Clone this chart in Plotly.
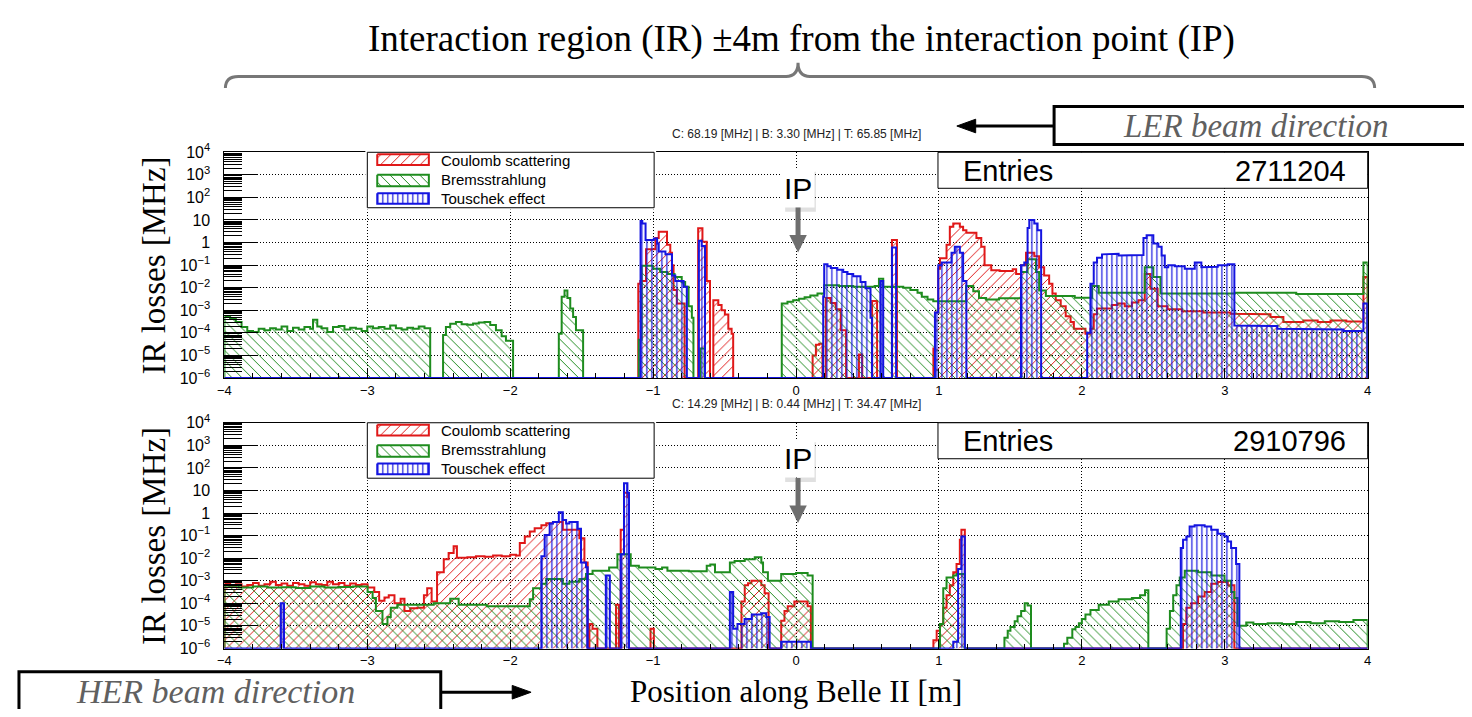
import plotly.graph_objects as go

# ---------------- data (bin edges / bin contents, MHz) ----------------
# Upper panel: LER
LER_COULOMB_X = [-4.00, -1.104, -1.09, -1.05, -0.984, -0.961, -0.903, -0.880, -0.868, -0.857, -0.834, -0.780,
                 -0.685, -0.655, -0.625, -0.602, -0.579, -0.544, -0.521, -0.498, -0.474, -0.451, -0.440,
                 0.116, 0.139, 0.162, 0.185, 0.208, 0.243, 0.278, 0.313, 0.35, 0.44, 0.463, 0.532, 0.567,
                 0.671, 0.706, 0.961, 0.972, 0.995, 1.007, 1.053, 1.076, 1.100, 1.146, 1.169, 1.192, 1.262,
                 1.296, 1.319, 1.366, 1.424, 1.516, 1.540, 1.574, 1.609, 1.667, 1.701, 1.736, 1.771, 1.794,
                 1.817, 1.852, 1.887, 1.921, 1.944, 2.025, 2.060, 2.083, 2.106, 2.21, 2.25, 2.30, 2.35,
                 2.396, 2.44, 2.48, 2.53, 2.60, 2.70, 2.85, 3.04, 3.20, 3.32, 3.41, 3.55, 3.65, 3.74, 3.85,
                 3.97, 4.00]
LER_COULOMB_Y = [0, 0.015, 0.02, 0.5, 1.6, 3.0, 0.8, 0.35, 0.1, 8e-3, 2e-3, 0,
                 4.3, 1.1, 0.02, 0, 2.8e-3, 1.7e-3, 1e-3, 6.5e-4, 1.5e-4, 9e-5, 0,
                 1e-5, 3e-5, 3.3e-5, 0, 3.5e-3, 2.1e-3, 1.1e-3, 1.3e-4, 0, 1.1e-5, 0, 2.6e-3, 0,
                 1.3, 0, 2e-5, 8e-4, 0.07, 0.2, 0.8, 5, 7, 5, 3.5, 2.7, 1.6,
                 0.65, 0.1, 0.06, 0.055, 0.065, 0.04, 0.1, 0.35, 0.25, 0.08, 0.035, 0.015, 5.6e-3,
                 2.8e-3, 1.5e-3, 5.5e-4, 3e-4, 1.5e-4, 9e-5, 1.5e-4, 6.6e-4, 1.2e-3, 1.7e-3, 2e-3, 1.5e-3, 2.2e-3,
                 2.8e-3, 0.04, 9e-3, 1.5e-3, 1.1e-3, 9e-4, 8e-4, 7e-4, 6.6e-4, 5e-4, 3e-4, 3.5e-4, 3e-4, 3.5e-4, 3.2e-4,
                 0.03]

LER_BREMS_X = [-4.00, -3.96, -3.92, -3.88, -3.84, -3.80, -3.76, -3.72, -3.68, -3.64, -3.60, -3.56, -3.52,
               -3.48, -3.44, -3.40, -3.38, -3.35, -3.32, -3.28, -3.24, -3.20, -3.16, -3.12, -3.08, -3.04,
               -3.00, -2.96, -2.92, -2.88, -2.84, -2.80, -2.76, -2.72, -2.68, -2.64, -2.60, -2.56, -2.47,
               -2.45, -2.42, -2.38, -2.34, -2.30, -2.26, -2.22, -2.18, -2.14, -2.10, -2.06, -2.03, -1.98,
               -1.66, -1.64, -1.62, -1.60, -1.58, -1.56, -1.54, -1.49, -1.10, -1.08, -1.00, -0.95, -0.90,
               -0.85, -0.80, -0.776, -0.752, -0.729, -0.718, -0.67, -0.64, -0.10, -0.06, -0.02, 0.02, 0.06,
               0.10, 0.15, 0.197, 0.30, 0.40, 0.55, 0.58, 0.61, 0.70, 0.75, 0.80, 0.85, 0.88, 0.92, 0.96,
               1.19, 1.24, 1.28, 1.33, 1.42, 1.574, 1.62, 1.679, 1.701, 1.748, 1.95, 2.072, 2.118, 2.44,
               2.50, 2.55, 3.07, 3.50, 3.97, 4.00]
LER_BREMS_Y = [5.6e-4, 4.5e-4, 3.0e-4, 1.8e-4, 1.2e-4, 1.1e-4, 1.5e-4, 1.3e-4, 1.6e-4, 1.4e-4, 1.9e-4, 1.2e-4, 1.7e-4,
               1.4e-4, 1.8e-4, 1.5e-4, 3.8e-4, 1.9e-4, 1.6e-4, 1.1e-4, 1.8e-4, 2.0e-4, 1.4e-4, 1.7e-4, 1.5e-4, 1.2e-4,
               1.9e-4, 1.6e-4, 1.8e-4, 1.5e-4, 2.1e-4, 1.6e-4, 1.4e-4, 1.7e-4, 1.5e-4, 1.9e-4, 1.6e-4, 0, 8e-5,
               1.8e-4, 2.5e-4, 3.0e-4, 2.4e-4, 2.3e-4, 2.6e-4, 2.9e-4, 3.0e-4, 2.2e-4, 1.3e-4, 7e-5, 4.5e-5, 0,
               9e-5, 4e-3, 7.5e-3, 3.5e-3, 1.2e-3, 5e-4, 1.3e-4, 0, 5e-5, 0.095, 0.07, 0.05, 0.04,
               0.03, 0.018, 0.011, 1.5e-3, 4.7e-4, 0, 2e-5, 0, 2e-3, 2.4e-3, 2.8e-3, 3.2e-3, 3.8e-3,
               4.5e-3, 5.5e-3, 0.013, 0.012, 0.011, 0.012, 0.025, 0.011, 0.011, 0.010, 0.008, 0.006, 0.004, 0.003,
               0.0025,
               0.012, 0.007, 0.0035, 0.003, 0.0034, 0.05, 0.18, 0.05, 0.0076, 0.0043, 0.0036, 0.012, 0.006,
               0.08, 0.03, 0.0055, 0.006, 0.0053, 0.13]

LER_TOUSCHEK_X = [-4.00, -1.088, -1.076, -1.053, -0.995, -0.972, -0.961, -0.914, -0.868, -0.845, -0.787, -0.764,
                  -0.680, -0.660, -0.637, 0.190, 0.197, 0.220, 0.243, 0.289, 0.330, 0.360, 0.400, 0.451, 0.486,
                  0.521, 0.532, 0.590, 0.610, 0.671, 0.700, 0.972, 0.995, 1.019, 1.088, 1.111, 1.146, 1.169,
                  1.192, 1.574, 1.597, 1.620, 1.632, 1.667, 1.690, 1.715, 2.037, 2.060, 2.083, 2.106, 2.141,
                  2.21, 2.257, 2.33, 2.431, 2.453, 2.50, 2.535, 2.558, 2.58, 2.604, 2.65, 2.72, 2.79, 2.836,
                  2.90, 2.951, 3.02, 3.067, 3.20, 3.368, 3.60, 3.831, 3.97, 4.00]
LER_TOUSCHEK_Y = [0, 9, 7, 1.3, 1.5, 0.9, 0.4, 0.3, 0.035, 0.02, 0.011, 0,
                  1.2, 0.7, 0, 4e-3, 0.11, 0.09, 0.075, 0.062, 0.05, 0.04, 0.032, 0.018, 0.0095,
                  4.7e-4, 0, 0.02, 0, 0.6, 0, 8e-4, 0.1, 0.13, 0.35, 0.65, 0.35, 0.02,
                  0, 0.1, 0.13, 4.4, 10, 7, 3.5, 0, 1e-4, 0.015, 0.13, 0.21, 0.3,
                  0.32, 0.27, 0.28, 1.6, 2.1, 0.9, 0.65, 0.27, 0.08, 0.1, 0.09, 0.07, 0.13, 0.08,
                  0.085, 0.1, 0.11, 2.1e-4, 2e-4, 1.5e-4, 1.4e-4, 1.2e-4, 2e-3]

# Lower panel: HER
HER_COULOMB_X = [-4.00, -3.96, -3.92, -3.88, -3.84, -3.80, -3.76, -3.72, -3.68, -3.64, -3.60, -3.56, -3.52,
                 -3.48, -3.44, -3.40, -3.36, -3.32, -3.28, -3.24, -3.20, -3.16, -3.12, -3.08, -3.04, -2.998,
                 -2.951, -2.917, -2.88, -2.85, -2.81, -2.767, -2.74, -2.70, -2.65, -2.604, -2.581, -2.55,
                 -2.512, -2.465, -2.431, -2.396, -2.373, -2.30, -2.24, -2.18, -2.12, -2.06, -2.00, -1.96,
                 -1.933, -1.898, -1.863, -1.829, -1.782, -1.748, -1.70, -1.632, -1.55, -1.516, -1.481,
                 -1.458, -1.446, -1.424, -1.39, -1.26, -1.24, -1.227, -1.204, -1.18, -1.169, -1.018, -0.995,
                 -0.382, -0.359, -0.336, -0.3125, -0.243, -0.22, -0.192, -0.104, -0.081, -0.058, -0.012,
                 0.081, 0.104, 0.961, 0.984, 1.007, 1.030, 1.053, 1.076, 1.100, 1.123, 1.146, 1.157, 1.181,
                 2.708, 2.731, 2.766, 2.813, 2.859, 2.905, 2.951, 3.021, 3.067, 4.00]
HER_COULOMB_Y = [8e-4, 6e-4, 7e-4, 5.5e-4, 6.5e-4, 8e-4, 6e-4, 7e-4, 9e-4, 6.5e-4, 7.5e-4, 6e-4, 8e-4,
                 7e-4, 6e-4, 8.5e-4, 7e-4, 6.5e-4, 9e-4, 7e-4, 8e-4, 6e-4, 7.5e-4, 6.5e-4, 7e-4, 5e-4,
                 3.2e-4, 1.3e-4, 1.8e-4, 2.3e-4, 1e-4, 1.6e-4, 4.5e-5, 6e-5, 6.3e-5, 2.3e-4, 4.6e-4, 1.2e-4,
                 2.4e-3, 9e-3, 0.017, 0.034, 0.0105, 0.011, 0.012, 0.0115, 0.013, 0.012, 0.014, 0.013,
                 0.047, 0.09, 0.15, 0.21, 0.29, 0.35, 0.4, 0.18, 0.18, 0.077, 6.5e-3,
                 0, 1.2e-5, 7.5e-6, 0, 8.7e-5, 0, 0.18, 8, 5, 0, 7.5e-6, 0,
                 1.2e-4, 6.3e-4, 7.7e-4, 1e-3, 6.3e-4, 2.8e-4, 0, 1.7e-5, 4.5e-5, 7.4e-5, 1.2e-4,
                 7.4e-5, 0, 2.3e-6, 6e-6, 1.2e-5, 6.3e-5, 2.3e-4, 6.3e-4, 2.4e-3, 5.5e-3, 0.065, 0.18, 0,
                 1.2e-5, 6.3e-5, 1e-4, 2e-4, 3.2e-4, 7.4e-4, 8.7e-4, 6.3e-4, 0]

HER_BREMS_X = [-4.00, -3.90, -3.80, -3.70, -3.60, -3.50, -3.40, -3.30, -3.20, -3.10, -2.998, -2.963, -2.94,
               -2.894, -2.859, -2.836, -2.79, -2.535, -2.42, -2.361, -2.164, -1.863, -1.84, -1.782, -1.748,
               -1.632, -1.586, -1.516, -1.47, -1.424, -1.308, -1.25, -1.157, -1.10, -0.984, -0.9375, -0.90,
               -0.75, -0.625, -0.60, -0.567, -0.463, -0.43, -0.359, -0.289, -0.243, -0.231, -0.197, -0.104,
               0.00, 0.081, 0.116, 1.007, 1.030, 1.053, 1.100, 1.123, 1.181, 1.458, 1.481, 1.500, 1.530,
               1.550, 1.575, 1.600, 1.620, 1.644, 1.875, 1.898, 1.933, 1.955, 1.979, 2.000, 2.025, 2.060,
               2.118, 2.188, 2.257, 2.350, 2.407, 2.442, 2.465, 2.593, 2.616, 2.639, 2.662, 2.685, 2.720,
               2.813, 2.905, 2.998, 3.044, 3.067, 3.090, 3.15, 3.20, 3.30, 3.40, 3.50, 3.60, 3.70, 3.80,
               3.90, 4.00]
HER_BREMS_Y = [6e-4, 5e-4, 5.5e-4, 5e-4, 5.2e-4, 4.8e-4, 5.5e-4, 5e-4, 5.3e-4, 5.5e-4, 3.2e-4, 1.7e-4, 4.5e-5,
               1.2e-5, 2.5e-5, 6.3e-5, 8.7e-5, 1e-4, 1.6e-4, 8.7e-5, 7.4e-5, 1.5e-4, 4.6e-4, 7.4e-4, 1.2e-3,
               7.4e-4, 9e-4, 1.2e-3, 2e-3, 2.8e-3, 3.9e-3, 0.015, 4.6e-3, 3.9e-3, 3.3e-3, 3.9e-3, 2.8e-3,
               2.6e-3, 4.6e-3, 5.2e-3, 2.4e-3, 6.5e-3, 7.4e-3, 8.9e-3, 0.011, 6.5e-3, 2.4e-3, 1e-3, 2e-3,
               2.2e-3, 1.7e-3, 0, 1.2e-5, 4.6e-4, 1.4e-3, 1.7e-3, 2e-3, 0, 3e-6, 6e-6, 9e-6, 1.6e-5,
               2.7e-5, 4.5e-5, 1e-4, 8e-5, 0, 1.6e-6, 3e-6, 7e-6, 9e-6, 1.3e-5, 2e-5, 3.2e-5, 5e-5,
               8.7e-5, 1.2e-4, 1.5e-4, 1.7e-4, 2.3e-4, 3.8e-4, 0, 7.4e-6, 4.5e-5, 2.3e-4, 6.3e-4, 1.4e-3, 2.8e-3,
               2.4e-3, 1.7e-3, 1e-3, 3.2e-4, 1.7e-4, 1e-5, 1.4e-5, 1.2e-5, 1.3e-5, 1.2e-5, 1.5e-5, 1.3e-5, 1.6e-5,
               1.5e-5, 1.8e-5]

HER_TOUSCHEK_X = [-4.00, -3.606, -3.583, -1.782, -1.759, -1.724, -1.701, -1.660, -1.632, -1.609, -1.586, -1.528,
                  -1.505, -1.470, -1.458, -1.331, -1.303, -1.227, -1.204, -1.180, -1.169, -0.463, -0.440,
                  -0.410, -0.360, -0.310, -0.243, -0.208, -0.185, -0.104, 0.104, 1.100, 1.134, 1.157, 1.181,
                  2.692, 2.708, 2.731, 2.754, 2.789, 2.859, 2.905, 2.951, 2.998, 3.021, 3.044, 3.079, 3.102, 4.00]
HER_TOUSCHEK_Y = [0, 1e-4, 0, 0.012, 0.107, 0.34, 0.4, 1.08, 0.49, 0.34, 0.4, 0.2,
                  6.5e-3, 4e-3, 0, 1.7e-3, 0, 0.015, 21, 8, 0, 3.2e-4, 7.5e-6,
                  1.2e-5, 2e-5, 3.2e-5, 3.6e-5, 2.5e-5, 0, 2e-6, 0, 2e-6, 3.3e-3, 0.09, 0,
                  0.028, 0.065, 0.09, 0.25, 0.29, 0.25, 0.18, 0.12, 0.09, 0.055, 0.028, 5.5e-3, 0]

SERIES_NAMES = ["Coulomb scattering", "Bremsstrahlung", "Touschek effect"]
LER_SUMMARY = "C: 68.19 [MHz] | B: 3.30 [MHz] | T: 65.85 [MHz]"
HER_SUMMARY = "C: 14.29 [MHz] | B: 0.44 [MHz] | T: 34.47 [MHz]"
LER_ENTRIES = "2711204"
HER_ENTRIES = "2910796"
X_TICKS = [-4, -3, -2, -1, 0, 1, 2, 3, 4]
Y_EXPONENTS = [-6, -5, -4, -3, -2, -1, 0, 1, 2, 3, 4]

# ---------------- styling ----------------
# The page body keeps its default 8px margin, so the figure is 16px smaller than the window
# and every layout position below is given in window pixels.
PAGE_W, PAGE_H, BODY = 1472, 717, 8
W, H = PAGE_W - 2 * BODY, PAGE_H - 2 * BODY
FLOOR = 1e-6
COLORS = ["#e01818", "#1e8c1e", "#1414e0"]
PATTERNS = [dict(shape="/", size=7, solidity=0.14),
            dict(shape="\\", size=7, solidity=0.14),
            dict(shape="|", size=5, solidity=0.24)]
SANS = "Liberation Sans, Arial, sans-serif"
SERIF = "Liberation Serif, Times New Roman, serif"


def fx(p):
    return (p - BODY) / W


def fy(p):
    return 1 - (p - BODY) / H


def step_polygon(edges, vals):
    if len(edges) != len(vals) + 1:
        raise ValueError("edges/vals mismatch: %d vs %d" % (len(edges), len(vals)))
    xs, ys = [edges[0]], [FLOOR]
    for i, v in enumerate(vals):
        v = max(v, FLOOR)
        xs += [edges[i], edges[i + 1]]
        ys += [v, v]
    xs.append(edges[-1])
    ys.append(FLOOR)
    return xs, ys


fig = go.Figure()

panels = [
    ("x", "y", [(LER_COULOMB_X, LER_COULOMB_Y), (LER_BREMS_X, LER_BREMS_Y), (LER_TOUSCHEK_X, LER_TOUSCHEK_Y)]),
    ("x2", "y2", [(HER_COULOMB_X, HER_COULOMB_Y), (HER_BREMS_X, HER_BREMS_Y), (HER_TOUSCHEK_X, HER_TOUSCHEK_Y)]),
]
for xa, ya, series in panels:
    for k, (ex, vy) in enumerate(series):
        xs, ys = step_polygon(ex, vy)
        fig.add_trace(go.Scatter(
            x=xs, y=ys, xaxis=xa, yaxis=ya, mode="lines", fill="toself",
            fillcolor="rgba(0,0,0,0)",
            fillpattern=dict(fgcolor=COLORS[k], bgcolor="rgba(0,0,0,0)", fillmode="replace", **PATTERNS[k]),
            line=dict(color=COLORS[k], width=2), name=SERIES_NAMES[k], showlegend=False, hoverinfo="skip"))

# ---------------- custom ROOT-like legends (own small axes) ----------------
LEG_W, LEG_H = 289, 57
legend_boxes = [("x3", "y3", 363, 145), ("x4", "y4", 363, 423)]
SW_ROWS = [(2, 13), (23, 35), (42, 53)]
for xa, ya, lx, ly in legend_boxes:
    fig.add_trace(go.Scatter(x=[0, LEG_W, LEG_W, 0, 0], y=[0, 0, LEG_H, LEG_H, 0], xaxis=xa, yaxis=ya,
                             mode="lines", fill="toself", fillcolor="white",
                             line=dict(color="black", width=1), showlegend=False, hoverinfo="skip"))
    for k, (r0, r1) in enumerate(SW_ROWS):
        fig.add_trace(go.Scatter(
            x=[10, 62, 62, 10, 10], y=[r0, r0, r1, r1, r0], xaxis=xa, yaxis=ya, mode="lines", fill="toself",
            fillcolor="rgba(0,0,0,0)",
            fillpattern=dict(fgcolor=COLORS[k], bgcolor="rgba(0,0,0,0)", fillmode="replace", **PATTERNS[k]),
            line=dict(color=COLORS[k], width=2), showlegend=False, hoverinfo="skip"))

# ---------------- axes ----------------
def ytext(e):
    if e == 0:
        return "1"
    if e == 1:
        return "10"
    return "10<sup>%s</sup>" % (str(e).replace("-", "\u2212"))


minor_vals = [m * 10.0 ** e for e in Y_EXPONENTS[:-1] for m in range(2, 10)]
x_dom = [fx(219), fx(1371)]
xcommon = dict(range=[-4, 4], tickvals=X_TICKS, ticks="inside", ticklen=9, tickcolor="black",
               showline=True, linecolor="black", linewidth=1, mirror=True, showgrid=True,
               gridcolor="black", griddash="1px,2px", gridwidth=1, zeroline=False,
               tickfont=dict(family=SANS, size=13, color="black"),
               minor=dict(dtick=0.2, ticks="inside", ticklen=5, tickcolor="black", showgrid=False))
ycommon = dict(type="log", range=[-6.01, 4], tickvals=[10.0 ** e for e in Y_EXPONENTS],
               ticktext=[ytext(e) for e in Y_EXPONENTS], ticks="inside", ticklen=34, tickcolor="black",
               showline=True, linecolor="black", linewidth=1, mirror=True, showgrid=True,
               gridcolor="black", griddash="1px,2px", gridwidth=1, zeroline=False,
               tickfont=dict(family=SANS, size=16, color="black"), ticklabelstandoff=10,
               minor=dict(tickvals=minor_vals, ticks="inside", ticklen=18, tickcolor="black", showgrid=False))

layout = dict(
    width=W, height=H, autosize=False, margin=dict(l=0, r=0, t=0, b=0),
    paper_bgcolor="white", plot_bgcolor="white", showlegend=False,
    xaxis=dict(domain=x_dom, anchor="y", **xcommon),
    yaxis=dict(domain=[fy(377.2), fy(145)], anchor="x", **ycommon),
    xaxis2=dict(domain=x_dom, anchor="y2", **xcommon),
    yaxis2=dict(domain=[fy(655.2), fy(423)], anchor="x2", **ycommon),
)
for i, (xa, ya, lx, ly) in enumerate(legend_boxes):
    n = xa[1:]
    layout["xaxis" + n] = dict(domain=[fx(lx - 2), fx(lx + LEG_W + 2)], range=[-2, LEG_W + 2], visible=False,
                               anchor="y" + n, fixedrange=True)
    layout["yaxis" + n] = dict(domain=[fy(ly + LEG_H + 2), fy(ly - 2)], range=[LEG_H + 2, -2], visible=False,
                               anchor="x" + n, fixedrange=True)
fig.update_layout(**layout)

# ---------------- annotations & shapes ----------------
ann = []
shapes = []


def text(x, y, s, size, family=SANS, color="black", xanchor="center", **kw):
    ann.append(dict(x=fx(x), y=fy(y), xref="paper", yref="paper", text=s, showarrow=False,
                    font=dict(family=family, size=size, color=color), xanchor=xanchor, yanchor="middle", **kw))


# headline and brace
text(800, 29, "Interaction region (IR) \u00b14m from the interaction point (IP)", 37, SERIF)
brace = ("M {a},{b} Q {a},{c} {d},{c} L {e},{c} Q {m},{c} {m},{t} Q {m},{c} {f},{c} L {g},{c} Q {h},{c} {h},{b}"
         .format(a=fx(220), b=fy(79), c=fy(67), d=fx(233), e=fx(785), m=fx(797), t=fy(53), f=fx(809),
                 g=fx(1365), h=fx(1378)))
shapes.append(dict(type="path", path=brace, xref="paper", yref="paper", line=dict(color="#777777", width=3)))

# beam direction boxes and arrows
shapes.append(dict(type="rect", xref="paper", yref="paper", x0=fx(1055), x1=fx(1490), y0=fy(137), y1=fy(98),
                   line=dict(color="black", width=3), fillcolor="white"))
text(1258, 118, "<i>LER beam direction</i>", 33, SERIF, color="#606060")
shapes.append(dict(type="line", xref="paper", yref="paper", x0=fx(972), x1=fx(1055), y0=fy(118), y1=fy(118),
                   line=dict(color="black", width=3)))
shapes.append(dict(type="path", xref="paper", yref="paper", fillcolor="black", line=dict(color="black", width=1),
                   path="M {},{} L {},{} L {},{} Z".format(fx(957), fy(118), fx(976), fy(111), fx(976), fy(125))))

shapes.append(dict(type="rect", xref="paper", yref="paper", x0=fx(12), x1=fx(437), y0=fy(730), y1=fy(679),
                   line=dict(color="black", width=3), fillcolor="white"))
text(210, 699, "<i>HER beam direction</i>", 34, SERIF, color="#606060")
shapes.append(dict(type="line", xref="paper", yref="paper", x0=fx(437), x1=fx(512), y0=fy(700), y1=fy(700),
                   line=dict(color="black", width=3)))
shapes.append(dict(type="path", xref="paper", yref="paper", fillcolor="black", line=dict(color="black", width=1),
                   path="M {},{} L {},{} L {},{} Z".format(fx(528), fy(700), fx(509), fy(693), fx(509), fy(707))))

text(795, 699, "Position along Belle II [m]", 31, SERIF)

# per panel decorations
for (top, bot, summary, entries) in [(145, 377, LER_SUMMARY, LER_ENTRIES), (423, 655, HER_SUMMARY, HER_ENTRIES)]:
    mid = (top + bot) / 2
    text(148, mid + 0.5, "IR losses [MHz]", 33, SERIF, textangle=-90)
    text(795, top - 19, summary, 12, SANS, color="#222222")
    # statistics box
    shapes.append(dict(type="rect", xref="paper", yref="paper", x0=fx(938), x1=fx(1371), y0=fy(top + 37),
                       y1=fy(top), line=dict(color="black", width=1), fillcolor="white", layer="above"))
    text(961, top + 19, "Entries", 29, SANS, xanchor="left")
    text(1351, top + 19, entries, 29, SANS, xanchor="right")
    # legend texts
    for k, dy in enumerate([8, 28, 47]):
        text(435, top + dy, SERIES_NAMES[k], 15, SANS, xanchor="left")
    # IP marker with shadow
    shapes.append(dict(type="rect", xref="paper", yref="paper", x0=fx(784), x1=fx(815), y0=fy(top + 61),
                       y1=fy(top + 20), line=dict(width=0), fillcolor="rgba(0,0,0,0.12)", layer="above"))
    ann.append(dict(x=fx(797), y=fy(top + 103), xref="paper", yref="paper", text="IP", showarrow=True,
                    ax=0, ay=-64, axref="pixel", ayref="pixel", arrowcolor="#6e6e6e", arrowwidth=5,
                    arrowhead=2, arrowsize=0.7, bgcolor="white", borderpad=2,
                    font=dict(family=SANS, size=30, color="black")))

fig.update_layout(annotations=ann, shapes=shapes)
fig.write_html("out.html", config={"displayModeBar": False})
